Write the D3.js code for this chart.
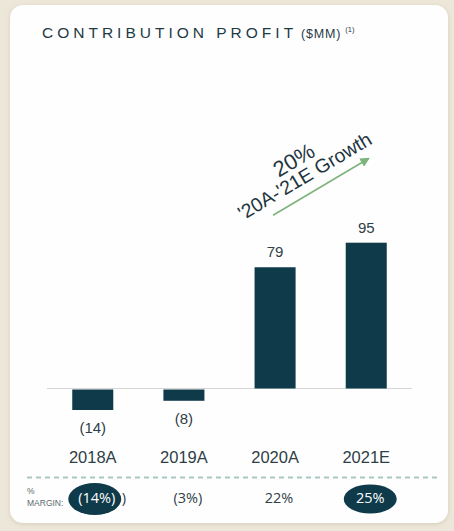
<!DOCTYPE html>
<html>
<head>
<meta charset="utf-8">
<script src="https://cdn.jsdelivr.net/npm/d3@7"></script>
<style>
  html, body { margin: 0; padding: 0; background: #ece7d8; }
  svg { display: block; }
</style>
</head>
<body>
<div id="chart"></div>
<script>
// contribution profit bars ($MM)
const categories = ['2018A', '2019A', '2020A', '2021E'];
const values = [-14, -8, 79, 95];
const valueLabels = ['(14)', '(8)', '79', '95'];
const marginLabels = ['(14%)', '(3%)', '22%', '25%'];
const highlighted = [true, false, false, true];
const growthPct = '20%';
const growthLabel = "'20A-'21E Growth";

const W = 454, H = 531;
const NAVY = '#0e3a4a';
const TEXT = '#2f3f46';

const svg = d3.select('#chart').append('svg')
    .attr('width', W)
    .attr('height', H);

const defs = svg.append('defs');
const shadow = defs.append('filter').attr('id', 'shadow')
    .attr('x', '-5%').attr('y', '-5%').attr('width', '110%').attr('height', '110%');
shadow.append('feDropShadow')
    .attr('dx', 0).attr('dy', 1).attr('stdDeviation', 2)
    .attr('flood-color', '#b8b09a').attr('flood-opacity', 0.5);

defs.append('marker')
    .attr('id', 'arrow')
    .attr('viewBox', '0 0 10 10')
    .attr('refX', 8).attr('refY', 5)
    .attr('markerWidth', 6).attr('markerHeight', 6)
    .attr('orient', 'auto')
    .append('path')
    .attr('d', 'M0,0 L10,5 L0,10 z')
    .attr('fill', '#7db47c');

// background card
svg.append('rect')
    .attr('x', 10).attr('y', 5)
    .attr('width', 438).attr('height', 518)
    .attr('rx', 13)
    .attr('fill', '#fefefe')
    .attr('filter', 'url(#shadow)');

// title
const title = svg.append('text')
    .attr('x', 42).attr('y', 38)
    .attr('fill', '#1e3a45')
    .style('font-family', 'Liberation Sans, Arial, sans-serif');
title.append('tspan')
    .style('font-size', '15.5px')
    .style('letter-spacing', '4px')
    .text('CONTRIBUTION PROFIT');
title.append('tspan')
    .attr('dx', 4)
    .style('font-size', '12.5px')
    .style('letter-spacing', '0.8px')
    .text('($MM)');
title.append('tspan')
    .attr('dx', 4).attr('dy', -6)
    .style('font-size', '7.5px')
    .text('(1)');

// scales
const x = d3.scaleBand()
    .domain(categories)
    .range([47, 412])
    .paddingInner(0.55)
    .paddingOuter(0.277);

const y = d3.scaleLinear()
    .domain([0, 95])
    .range([388.5, 242.7]);

const data = categories.map(function (c, i) {
    return { cat: c, value: values[i], label: valueLabels[i], margin: marginLabels[i], hi: highlighted[i] };
});

// zero line
svg.append('line')
    .attr('x1', x.range()[0]).attr('x2', x.range()[1])
    .attr('y1', y(0)).attr('y2', y(0))
    .attr('stroke', '#d6d6d6')
    .attr('stroke-width', 1);

// bars
svg.append('g').selectAll('rect')
    .data(data)
    .enter()
    .append('rect')
    .attr('x', function (d) { return x(d.cat); })
    .attr('y', function (d) { return Math.min(y(d.value), y(0)) + (d.value < 0 ? 1 : 0); })
    .attr('width', x.bandwidth())
    .attr('height', function (d) { return Math.abs(y(d.value) - y(0)) - (d.value < 0 ? 1 : 0); })
    .attr('fill', NAVY);

const cx = function (d) { return x(d.cat) + x.bandwidth() / 2; };

// value labels
svg.append('g').selectAll('text')
    .data(data)
    .enter()
    .append('text')
    .attr('x', cx)
    .attr('y', function (d) { return d.value >= 0 ? y(d.value) - 10 : y(d.value) + 23; })
    .attr('text-anchor', 'middle')
    .attr('fill', TEXT)
    .style('font-family', 'Liberation Sans, Arial, sans-serif')
    .style('font-size', '15px')
    .text(function (d) { return d.label; });

// category labels
svg.append('g').selectAll('text')
    .data(data)
    .enter()
    .append('text')
    .attr('x', cx)
    .attr('y', 463)
    .attr('text-anchor', 'middle')
    .attr('fill', TEXT)
    .style('font-family', 'Liberation Sans, Arial, sans-serif')
    .style('font-size', '16.5px')
    .text(function (d) { return d.cat; });

// dashed separator
svg.append('line')
    .attr('x1', 27).attr('x2', 438)
    .attr('y1', 477.5).attr('y2', 477.5)
    .attr('stroke', '#a9c7c2')
    .attr('stroke-width', 2)
    .attr('stroke-dasharray', '5,4');

// % MARGIN label
const ml = svg.append('text')
    .attr('fill', '#5a6a70')
    .style('font-family', 'Liberation Sans, Arial, sans-serif')
    .style('font-size', '8.5px');
ml.append('tspan').attr('x', 27).attr('y', 494).text('%');
ml.append('tspan').attr('x', 27).attr('y', 506).text('MARGIN:');

// margin row
const mg = svg.append('g');
const mx = function (d) { return cx(d) + 4; };

// the oval on the negative margin sits a bit left, leaving the closing paren of the label below it visible
mg.selectAll('text.under')
    .data(data.filter(function (d) { return d.hi && d.value < 0; }))
    .enter()
    .append('text')
    .attr('class', 'under')
    .attr('x', function (d) { return mx(d) + 25; })
    .attr('y', 503)
    .attr('fill', TEXT)
    .style('font-family', 'Open Sans, sans-serif')
    .style('font-size', '14.5px')
    .text(')');

mg.selectAll('ellipse')
    .data(data.filter(function (d) { return d.hi; }))
    .enter()
    .append('ellipse')
    .attr('cx', function (d) { return d.value < 0 ? mx(d) - 2 : mx(d); })
    .attr('cy', 499)
    .attr('rx', 26.5)
    .attr('ry', function (d) { return d.value < 0 ? 16 : 14.5; })
    .attr('fill', NAVY);

mg.selectAll('text.val')
    .data(data)
    .enter()
    .append('text')
    .attr('class', 'val')
    .attr('x', mx)
    .attr('y', 503)
    .attr('text-anchor', 'middle')
    .attr('fill', function (d) { return d.hi ? '#ffffff' : TEXT; })
    .style('font-family', 'Open Sans, sans-serif')
    .style('font-size', '14.5px')
    .text(function (d) { return d.margin; });

// growth annotation
const a = data[2], b = data[3];
const x0 = cx(a) - 2, y0 = y(a.value) - 52;
const x1 = cx(b) + 2, y1 = y(b.value) - 84;
svg.append('line')
    .attr('x1', x0).attr('y1', y0)
    .attr('x2', x1).attr('y2', y1)
    .attr('stroke', '#7db47c')
    .attr('stroke-width', 1.6)
    .attr('marker-end', 'url(#arrow)');

const ang = Math.atan2(y1 - y0, x1 - x0) * 180 / Math.PI;
const gx = (x0 + x1) / 2, gy = (y0 + y1) / 2;

svg.append('text')
    .attr('transform', 'translate(' + (gx - 16) + ',' + (gy - 11) + ') rotate(' + ang + ')')
    .attr('text-anchor', 'middle')
    .attr('dy', '0.35em')
    .attr('fill', '#1f3540')
    .style('font-family', 'Liberation Sans, Arial, sans-serif')
    .style('font-size', '19.5px')
    .text(growthLabel);

svg.append('text')
    .attr('transform', 'translate(' + (gx - 27) + ',' + (gy - 27) + ') rotate(' + ang + ')')
    .attr('text-anchor', 'middle')
    .attr('dy', '0.35em')
    .attr('fill', '#1f3540')
    .style('font-family', 'Liberation Sans, Arial, sans-serif')
    .style('font-size', '22px')
    .text(growthPct);
</script>
</body>
</html>
